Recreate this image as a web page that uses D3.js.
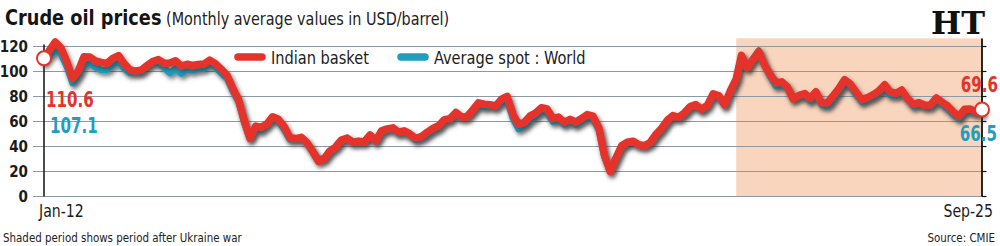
<!DOCTYPE html>
<html>
<head>
<meta charset="utf-8">
<script src="https://cdn.jsdelivr.net/npm/d3@7"></script>
<style>
  html, body { margin: 0; padding: 0; background: #fff; }
  svg { display: block; }
  svg { font-family: 'Liberation Sans Narrow', 'DejaVu Sans Condensed', 'Roboto', sans-serif; }
</style>
</head>
<body>
<svg id="chart"></svg>
<script>
// monthly values, Jan-2012 .. Sep-2025
const indianBasket = [
  110.6, 117.4, 123.6, 118.7, 108.1, 94.5, 100.2, 111.8, 111.6, 108.4, 107.3, 106.5,
  110.5, 112.7, 106.5, 101.6, 100.4, 101.1, 104.6, 108.0, 109.5, 106.7, 106.8, 108.6,
  104.4, 105.8, 104.8, 105.6, 106.0, 109.1, 106.3, 101.9, 97.0, 86.8, 77.6, 61.2,
  46.6, 56.4, 55.2, 58.0, 63.8, 61.8, 56.2, 47.2, 46.3, 47.3, 43.0, 36.0,
  28.1, 30.5, 36.4, 39.6, 45.1, 46.6, 43.5, 44.0, 43.7, 49.3, 44.6, 52.6,
  54.1, 54.9, 51.4, 52.5, 50.1, 46.6, 47.9, 51.4, 54.5, 56.6, 61.5, 62.3,
  67.2, 63.5, 63.8, 69.3, 74.9, 73.8, 73.5, 72.5, 77.9, 80.1, 65.4, 57.8,
  59.3, 64.5, 66.7, 71.0, 70.0, 62.4, 63.6, 59.4, 61.7, 59.6, 62.4, 65.5,
  64.3, 54.8, 33.4, 19.9, 30.6, 40.6, 43.4, 44.2, 41.4, 40.7, 43.4, 49.8,
  54.8, 61.2, 64.7, 63.4, 66.9, 71.9, 73.5, 69.8, 73.1, 82.1, 80.6, 73.3,
  84.7, 94.1, 112.9, 103.0, 109.5, 116.0, 105.5, 97.4, 91.0, 91.7, 87.6, 78.1,
  80.9, 82.3, 78.5, 83.8, 75.0, 74.9, 80.4, 86.4, 93.5, 90.1, 83.5, 77.4,
  79.2, 81.6, 84.5, 89.4, 83.6, 82.6, 85.2, 78.3, 73.7, 75.1, 73.0, 73.3,
  78.9, 75.4, 72.5, 67.7, 64.2, 69.8, 70.0, 67.7, 69.6
];

const worldSpot = [
  107.1, 112.7, 117.8, 113.7, 104.1, 90.7, 96.8, 105.3, 106.3, 103.4, 101.2, 101.2,
  105.1, 107.6, 102.5, 98.9, 99.4, 99.7, 104.6, 107.1, 106.3, 103.0, 98.7, 102.7,
  98.3, 101.5, 100.8, 102.1, 102.2, 105.8, 103.6, 98.7, 94.6, 84.4, 75.8, 59.3,
  46.6, 54.2, 52.8, 57.4, 62.5, 60.3, 53.9, 45.7, 46.3, 46.7, 42.8, 36.2,
  29.8, 30.5, 36.2, 39.7, 45.1, 47.1, 43.8, 44.6, 44.2, 48.7, 44.1, 51.9,
  53.6, 54.4, 50.7, 51.9, 49.3, 45.2, 46.9, 49.5, 53.1, 54.9, 59.8, 61.2,
  66.2, 63.5, 64.2, 68.8, 73.4, 71.4, 72.3, 71.3, 75.3, 76.7, 62.3, 53.9,
  56.6, 61.1, 63.7, 68.6, 66.8, 59.8, 61.5, 57.7, 60.0, 57.3, 60.4, 63.0,
  61.6, 53.4, 32.2, 21.0, 30.4, 39.5, 42.7, 44.0, 41.1, 40.5, 42.7, 48.7,
  53.6, 60.5, 63.8, 62.9, 66.4, 71.4, 72.8, 69.0, 72.8, 81.5, 79.2, 72.9,
  83.9, 93.5, 112.4, 103.4, 110.1, 116.8, 105.1, 96.0, 88.2, 90.4, 86.7, 78.1,
  80.4, 80.3, 76.5, 81.5, 73.4, 72.6, 77.4, 84.3, 91.0, 88.0, 81.5, 75.7,
  77.9, 79.6, 82.5, 86.9, 80.9, 80.8, 82.8, 77.9, 72.2, 74.2, 71.6, 71.9,
  77.0, 73.8, 70.0, 65.6, 62.6, 68.6, 68.1, 66.7, 66.5
];

const yTicks = [0, 20, 40, 60, 80, 100, 120];
const xLabels = ['Jan-12', 'Sep-25'];
const seriesNames = ['Indian basket', 'Average spot : World'];
const shadeStart = new Date(2022, 1, 1); // Ukraine war

const W = 1000, H = 246;
const RED = '#e5332a', TEAL = '#1f9ec0';

const months = d3.timeMonth.range(new Date(2012, 0, 1), new Date(2025, 9, 1));

const svg = d3.select('#chart').attr('width', W).attr('height', H);

const x = d3.scaleTime()
  .domain([months[0], months[months.length - 1]])
  .range([44, 982]);

const y = d3.scaleLinear()
  .domain([0, 120])
  .range([196.5, 46.5]);

// condensed text helper: squeeze horizontally
function label(sel, tx, ty, sx, txt) {
  return sel.append('text')
    .attr('transform', `translate(${tx},${ty}) scale(${sx},1)`)
    .text(txt);
}

// shadow filter
const defs = svg.append('defs');
const f = defs.append('filter').attr('id', 'shadow')
  .attr('x', '-5%').attr('y', '-20%').attr('width', '110%').attr('height', '140%');
f.append('feDropShadow')
  .attr('dx', 2).attr('dy', 3).attr('stdDeviation', 2.2)
  .attr('flood-color', '#3a3a3a').attr('flood-opacity', 0.65);

svg.append('rect').attr('width', W).attr('height', H).attr('fill', '#fff');

// shaded period
svg.append('rect')
  .attr('x', x(shadeStart))
  .attr('y', y(126.5))
  .attr('width', x(months[months.length - 1]) - x(shadeStart))
  .attr('height', y(0) - y(126.5))
  .attr('fill', '#f9d5bd');

// grid
svg.append('g')
  .selectAll('line')
  .data(yTicks)
  .join('line')
    .attr('x1', 33).attr('x2', 987)
    .attr('y1', d => y(d)).attr('y2', d => y(d))
    .attr('stroke', '#8d9aa6')
    .attr('stroke-width', 1.2);

// y tick labels
svg.append('g')
  .selectAll('text')
  .data(yTicks)
  .join('text')
    .attr('x', 28)
    .attr('y', d => y(d))
    .attr('dy', '0.35em')
    .attr('text-anchor', 'end')
    .attr('font-size', 15)
    .attr('font-weight', 'bold')
    .attr('fill', '#1c1c1c')
    .text(d => d);

// axes lines
svg.append('line')
  .attr('x1', x(months[0])).attr('x2', x(months[0]))
  .attr('y1', y(120) - 2).attr('y2', y(0))
  .attr('stroke', '#111').attr('stroke-width', 1.5);

const xr = x(months[months.length - 1]);
svg.append('line')
  .attr('x1', xr).attr('x2', xr)
  .attr('y1', y(126.5)).attr('y2', y(0))
  .attr('stroke', '#111').attr('stroke-width', 1.8);

svg.append('g')
  .selectAll('line')
  .data(yTicks)
  .join('line')
    .attr('x1', xr).attr('x2', xr + 4)
    .attr('y1', d => y(d)).attr('y2', d => y(d))
    .attr('stroke', '#111').attr('stroke-width', 1.2);

// lines
const line = d3.line()
  .x((d, i) => x(months[i]))
  .y(d => y(d));

svg.append('path')
  .datum(worldSpot)
  .attr('d', line)
  .attr('fill', 'none')
  .attr('stroke', TEAL)
  .attr('stroke-width', 6.5)
  .attr('stroke-linejoin', 'round')
  .attr('stroke-linecap', 'round')
  .attr('filter', 'url(#shadow)');

svg.append('path')
  .datum(indianBasket)
  .attr('d', line)
  .attr('fill', 'none')
  .attr('stroke', RED)
  .attr('stroke-width', 7.5)
  .attr('stroke-linejoin', 'round')
  .attr('stroke-linecap', 'round')
  .attr('filter', 'url(#shadow)');

// end markers
const ends = [0, indianBasket.length - 1];
svg.append('g')
  .selectAll('circle')
  .data(ends)
  .join('circle')
    .attr('cx', i => x(months[i]))
    .attr('cy', i => y(indianBasket[i]))
    .attr('r', 7)
    .attr('fill', '#fff')
    .attr('stroke', RED)
    .attr('stroke-width', 2);

// value labels
const fmt = d3.format('.1f');
const valueLabels = [
  {v: indianBasket[0], x: 46, y: 107, c: RED, a: 'start'},
  {v: worldSpot[0], x: 50, y: 133, c: TEAL, a: 'start'},
  {v: indianBasket[indianBasket.length - 1], x: 998, y: 91.5, c: RED, a: 'end'},
  {v: worldSpot[worldSpot.length - 1], x: 997, y: 141, c: TEAL, a: 'end'}
];
valueLabels.forEach(d => {
  label(svg, d.x, d.y, 0.8, fmt(d.v))
    .attr('text-anchor', d.a)
    .attr('font-size', 21)
    .attr('font-weight', 'bold')
    .attr('fill', d.c);
});

// x labels
label(svg, 39, 216.5, 0.87, xLabels[0])
  .attr('font-size', 18).attr('fill', '#1c1c1c');
label(svg, 993, 216.5, 0.87, xLabels[1])
  .attr('text-anchor', 'end')
  .attr('font-size', 18).attr('fill', '#1c1c1c');

// legend
const legendItems = [
  {name: seriesNames[0], c: RED, x: 235},
  {name: seriesNames[1], c: TEAL, x: 398}
];
const legend = svg.append('g');
legend.selectAll('line')
  .data(legendItems)
  .join('line')
    .attr('x1', d => d.x + 3).attr('x2', d => d.x + 27)
    .attr('y1', 57).attr('y2', 57)
    .attr('stroke', d => d.c)
    .attr('stroke-width', 7.5)
    .attr('stroke-linecap', 'round');
legendItems.forEach(d => {
  label(legend, d.x + 36, 63.5, 0.9, d.name)
    .attr('font-size', 18)
    .attr('fill', '#1c1c1c');
});

// title
const title = label(svg, 5, 24.5, 0.94, '');
title.append('tspan')
  .attr('font-size', 21).attr('font-weight', 'bold').attr('fill', '#151515')
  .text('Crude oil prices');
title.append('tspan')
  .attr('font-size', 17).attr('fill', '#222')
  .text(' (Monthly average values in USD/barrel)');

// logo
svg.append('text')
  .attr('x', 985).attr('y', 34)
  .attr('text-anchor', 'end')
  .style('font-family', "'DejaVu Serif', 'Liberation Serif', serif")
  .attr('font-size', 32)
  .attr('font-weight', 'bold')
  .attr('fill', '#111')
  .text('HT');

// footer
label(svg, 3, 241.5, 0.88, 'Shaded period shows period after Ukraine war')
  .attr('font-size', 13).attr('fill', '#222');
label(svg, 995, 241.5, 0.88, 'Source: CMIE')
  .attr('text-anchor', 'end')
  .attr('font-size', 13).attr('fill', '#222');
</script>
</body>
</html>
